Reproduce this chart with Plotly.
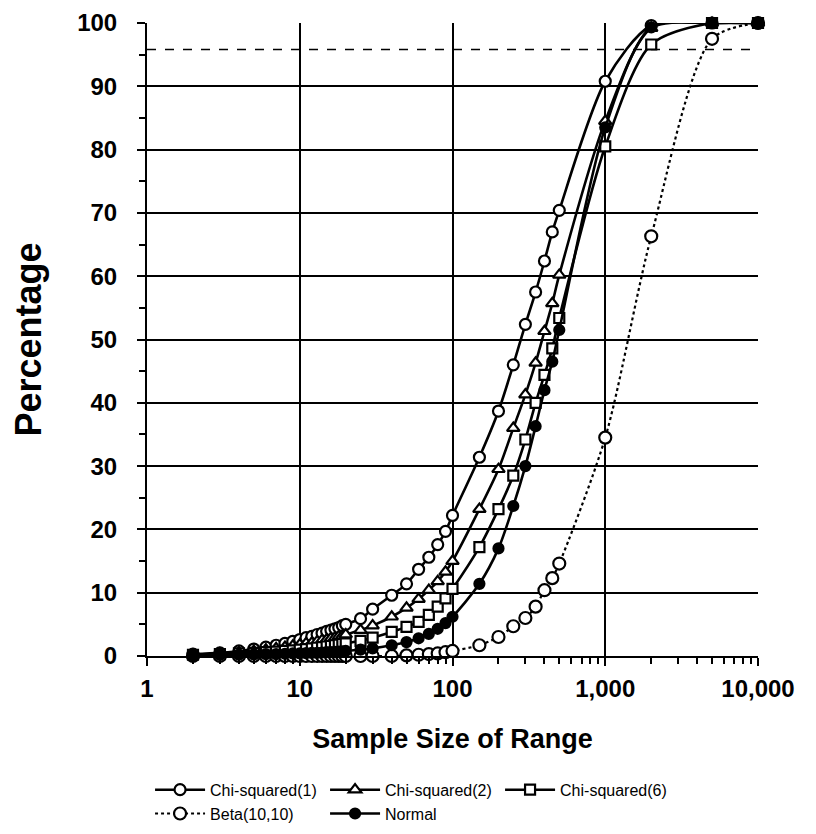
import plotly.graph_objects as go

# ---------------- data ----------------
sample_n = [2, 3, 4, 5, 6, 7, 8, 9, 10, 11, 12, 13, 14, 15, 16, 17, 18, 19, 20,
            25, 30, 40, 50, 60, 70, 80, 90, 100, 150, 200, 250, 300, 350, 400,
            450, 500, 1000, 2000, 5000, 10000]

chi1 = [0.3, 0.5, 0.8, 1.1, 1.4, 1.7, 2.0, 2.3, 2.6, 2.9, 3.1, 3.4, 3.6, 3.9, 4.1,
        4.3, 4.5, 4.8, 5.0, 5.9, 7.4, 9.6, 11.4, 13.7, 15.6, 17.6, 19.7, 22.2,
        31.4, 38.7, 46.0, 52.4, 57.5, 62.4, 67.0, 70.4, 90.8, 99.6, 100, 100]

chi2 = [0.2, 0.4, 0.6, 0.8, 1.0, 1.2, 1.4, 1.6, 1.8, 2.0, 2.1, 2.3, 2.5, 2.6, 2.8,
        2.9, 3.1, 3.2, 3.4, 4.1, 4.8, 6.2, 7.6, 9.0, 10.4, 11.8, 13.3, 15.0,
        23.2, 29.5, 36.0, 41.3, 46.3, 51.3, 55.7, 60.2, 84.5, 99.2, 100, 100]

chi6 = [0.2, 0.3, 0.4, 0.5, 0.6, 0.7, 0.8, 0.9, 1.0, 1.1, 1.2, 1.3, 1.4, 1.5, 1.6,
        1.7, 1.8, 1.9, 2.0, 2.4, 2.9, 3.8, 4.6, 5.4, 6.5, 7.8, 9.1, 10.6,
        17.2, 23.2, 28.5, 34.2, 40.0, 44.4, 48.6, 53.4, 80.5, 96.6, 100, 100]

beta = [0, 0, 0, 0, 0, 0, 0, 0, 0, 0, 0, 0, 0, 0, 0,
        0, 0, 0, 0, 0, 0, 0, 0.1, 0.2, 0.3, 0.4, 0.6, 0.8,
        1.7, 3.0, 4.7, 6.0, 7.8, 10.4, 12.3, 14.6, 34.5, 66.3, 97.5, 100]

normal = [0.1, 0.15, 0.2, 0.25, 0.3, 0.3, 0.35, 0.4, 0.4, 0.45, 0.5, 0.5, 0.55, 0.6, 0.6,
          0.65, 0.7, 0.75, 0.8, 1.0, 1.2, 1.7, 2.2, 2.8, 3.5, 4.3, 5.2, 6.2,
          11.4, 17.0, 23.7, 30.0, 36.3, 42.0, 46.5, 51.5, 83.5, 99.3, 100, 100]

reference_level = 95.8
x_tick_vals = [1, 10, 100, 1000, 10000]
x_tick_text = ["1", "10", "100", "1,000", "10,000"]
y_tick_vals = list(range(0, 101, 10))

FONT = "Liberation Sans"

fig = go.Figure()

series = [
    ("Chi-squared(1)", chi1, "circle-open", "solid", 11),
    ("Chi-squared(2)", chi2, "triangle-up-open", "solid", 11),
    ("Chi-squared(6)", chi6, "square-open", "solid", 10),
    ("Beta(10,10)", beta, "circle-open", "dot", 12),
    ("Normal", normal, "circle", "solid", 10),
]

for name, vals, sym, dash, size in series:
    is_open = sym.endswith("open")
    fig.add_trace(go.Scatter(
        x=sample_n, y=vals, name=name, mode="lines+markers",
        line=dict(color="black", width=2.6 if dash == "solid" else 2.2,
                  dash=dash, shape="spline", smoothing=0.8),
        marker=dict(symbol=sym.replace("-open", "") if is_open else sym,
                    size=size, color="white" if is_open else "black",
                    line=dict(color="black", width=2.2)),
        cliponaxis=False,
    ))

# dashed reference line
fig.add_shape(type="line", xref="paper", x0=0, x1=1, yref="y",
              y0=reference_level, y1=reference_level,
              line=dict(color="black", width=1.5, dash="dash"), layer="below")

fig.update_layout(
    width=816, height=834,
    margin=dict(l=139, r=66, t=15, b=186),
    paper_bgcolor="white", plot_bgcolor="white",
    font=dict(family=FONT, color="black"),
    showlegend=True,
    legend=dict(orientation="h", x=0.005, xanchor="left",
                yref="container", y=0.083, yanchor="top",
                entrywidth=110, itemwidth=50,
                font=dict(size=16, family=FONT),
                traceorder="normal", tracegroupgap=0),
)

fig.update_xaxes(
    type="log", range=[0, 4], automargin=False,
    tickvals=x_tick_vals, ticktext=x_tick_text,
    tickfont=dict(size=24, family=FONT, weight="bold"),
    showgrid=True, gridcolor="black", gridwidth=2,
    showline=True, linecolor="black", linewidth=2,
    ticks="outside", ticklen=8, tickwidth=2, tickcolor="black",
    minor=dict(ticks="outside", ticklen=6, tickwidth=2, tickcolor="black",
               dtick="D1", showgrid=False),
    title=dict(text="Sample Size of Range",
               font=dict(size=27, family=FONT, weight="bold"), standoff=28),
    ticklabelstandoff=2,
    zeroline=False, mirror=False,
)

fig.update_yaxes(
    range=[0, 100], automargin=False, tickvals=y_tick_vals,
    tickfont=dict(size=24, family=FONT, weight="bold"),
    showgrid=True, gridcolor="black", gridwidth=2,
    showline=True, linecolor="black", linewidth=2,
    ticks="outside", ticklen=8, tickwidth=2, tickcolor="black",
    minor=dict(ticks="outside", ticklen=6, tickwidth=2, tickcolor="black",
               dtick=5, showgrid=False),
    title=dict(text="Percentage",
               font=dict(size=36, family=FONT, weight="bold"), standoff=29),
    ticklabelstandoff=15,
    zeroline=False,
)

fig.write_html("out.html")
